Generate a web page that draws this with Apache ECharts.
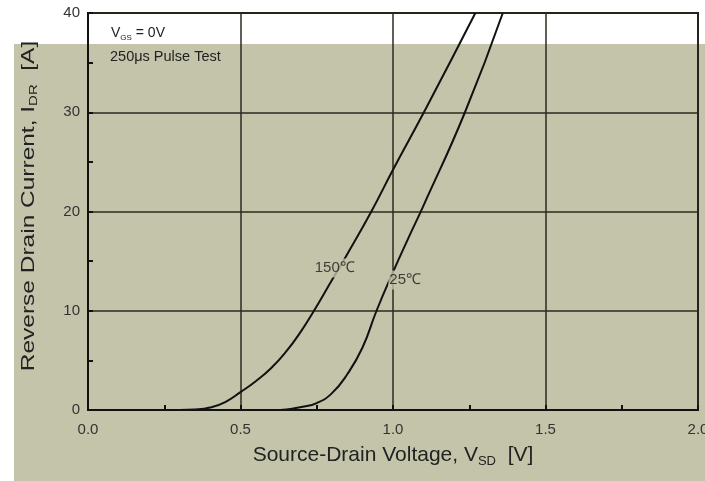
<!DOCTYPE html>
<html><head><meta charset="utf-8">
<script src="https://cdn.jsdelivr.net/npm/echarts@6/dist/echarts.min.js"></script>
<style>html,body{margin:0;padding:0;background:#fff;overflow:hidden}#c{width:705px;height:481px}</style>
</head><body><div id="c"></div>
<script>
const xTicks = [0, 0.5, 1.0, 1.5, 2.0];
const yTicks = [0, 10, 20, 30, 40];
const t150V = [0.30, 0.35, 0.40, 0.45, 0.50, 0.55, 0.60, 0.65, 0.70, 0.737, 0.80, 0.848, 0.929, 1.00, 1.11, 1.27];
const t150I = [0.0, 0.05, 0.25, 0.8, 1.8, 2.9, 4.2, 5.9, 8.0, 9.8, 13.1, 15.6, 20.0, 24.2, 30.5, 40.0];
const t25V = [0.63, 0.65, 0.70, 0.75, 0.80, 0.85, 0.90, 0.946, 1.00, 1.05, 1.10, 1.236, 1.36];
const t25I = [0.0, 0.05, 0.3, 0.7, 1.7, 3.6, 6.3, 10.0, 13.9, 17.3, 20.6, 30.0, 40.0];
const labels = [{ name: '150℃', v: 0.809, i: 14.3 }, { name: '25℃', v: 1.04, i: 13.1 }];

const bg = '#c3c4a9';
const font = 'Liberation Sans, Arial';
const chart = echarts.init(document.getElementById('c'));
const zip = (a, b) => a.map((v, k) => [v, b[k]]);
chart.setOption({
  animation: false,
  backgroundColor: '#ffffff',
  grid: { left: 88, right: 7, top: 13, bottom: 71, containLabel: false, outerBoundsMode: 'none', show: true, borderColor: '#111', borderWidth: 2, backgroundColor: 'transparent' },
  xAxis: {
    type: 'value', min: 0, max: 2, interval: 0.5,
    axisLine: { show: true, lineStyle: { color: '#111', width: 2 } },
    axisTick: { show: true, inside: true, length: 5, lineStyle: { color: '#111', width: 2 } },
    minorTick: { show: true, splitNumber: 2, length: 5, lineStyle: { color: '#111', width: 2 } },
    splitLine: { show: true, lineStyle: { color: '#2b2b20', width: 1.5 } },
    axisLabel: { color: '#333', fontSize: 15, fontFamily: font, margin: 12, formatter: v => v.toFixed(1) }
  },
  yAxis: {
    type: 'value', min: 0, max: 40, interval: 10,
    axisLine: { show: true, lineStyle: { color: '#111', width: 2 } },
    axisTick: { show: true, inside: true, length: 5, lineStyle: { color: '#111', width: 2 } },
    minorTick: { show: true, splitNumber: 2, length: 5, lineStyle: { color: '#111', width: 2 } },
    splitLine: { show: true, lineStyle: { color: '#2b2b20', width: 1.5 } },
    axisLabel: { color: '#333', fontSize: 15, fontFamily: font, margin: 8 }
  },
  series: [
    { type: 'line', data: zip(t150V, t150I), smooth: 0.5, showSymbol: false, lineStyle: { color: '#111', width: 2 }, z: 3 },
    { type: 'line', data: zip(t25V, t25I), smooth: 0.5, showSymbol: false, lineStyle: { color: '#111', width: 2 }, z: 3 },
    { type: 'scatter', data: labels.map(l => ({ value: [l.v, l.i], name: l.name })), symbolSize: 0, z: 5,
      label: { show: true, position: 'inside', formatter: p => p.name, color: '#1a1a1a', fontSize: 15, fontFamily: font, backgroundColor: bg, padding: [2, 1] } }
  ]
});
const p0 = chart.convertToPixel({ gridIndex: 0 }, [0, 40]);
const pO = chart.convertToPixel({ gridIndex: 0 }, [0, 0]);
const pR = chart.convertToPixel({ gridIndex: 0 }, [2, 0]);
chart.setOption({
  graphic: [
    { type: 'rect', left: 14, top: 44, shape: { width: 691, height: 437 }, style: { fill: bg }, z: -10, silent: true },
    { type: 'text', x: p0[0] + 23, y: p0[1] + 11, z: 10, style: { rich: { t: { fontSize: 14, fill: '#222', fontFamily: font }, s: { fontSize: 8, fill: '#222', fontFamily: font, padding: [10, 0, 0, 0] } }, text: '{t|V}{s|GS}{t| = 0V}' } },
    { type: 'text', x: p0[0] + 22, y: p0[1] + 36, z: 10, style: { text: '250μs Pulse Test', fontSize: 14.5, fill: '#222', fontFamily: font } },
    { type: 'text', x: (pO[0] + pR[0]) / 2, y: 455, z: 10, style: { align: 'center', verticalAlign: 'middle', rich: { t: { fontSize: 21, fill: '#222', fontFamily: font }, s: { fontSize: 13, fill: '#222', fontFamily: font, padding: [12, 0, 0, 0] } }, text: '{t|Source-Drain Voltage, V}{s|SD}{t|  [V]}' } },
    { type: 'text', x: 29, y: 206, rotation: Math.PI / 2, scaleX: 1.36, z: 10, style: { align: 'center', verticalAlign: 'middle', rich: { t: { fontSize: 18, fill: '#222', fontFamily: font }, s: { fontSize: 11, fill: '#222', fontFamily: font, padding: [10, 0, 0, 0] } }, text: '{t|Reverse Drain Current, I}{s|DR}{t|  [A]}' } }
  ]
});
</script></body></html>
